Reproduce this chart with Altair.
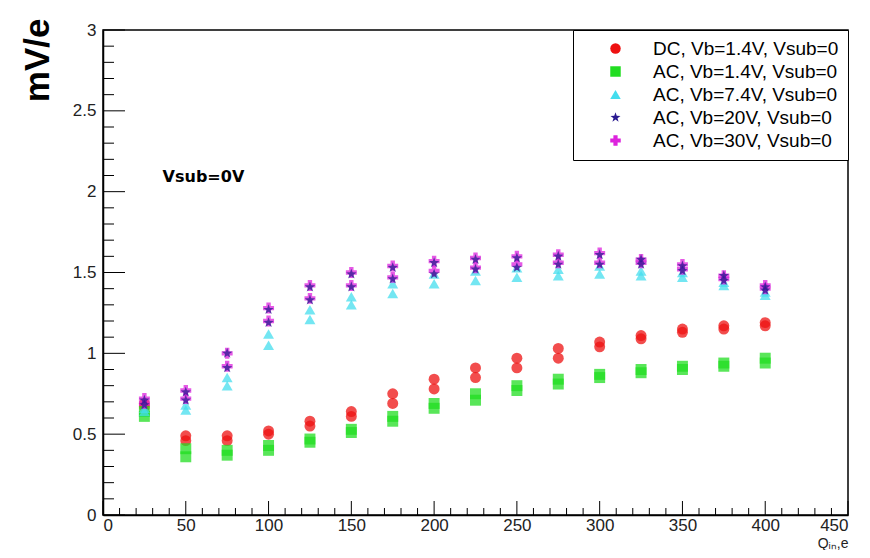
import altair as alt
import pandas as pd

q = [25, 50, 75, 100, 125, 150, 175, 200, 225, 250, 275, 300, 325, 350, 375, 400]

series = [
    "DC, Vb=1.4V, Vsub=0",
    "AC, Vb=1.4V, Vsub=0",
    "AC, Vb=7.4V, Vsub=0",
    "AC, Vb=20V, Vsub=0",
    "AC, Vb=30V, Vsub=0",
]

dc14_a = [0.69, 0.49, 0.49, 0.52, 0.58, 0.64, 0.75, 0.84, 0.91, 0.97, 1.03, 1.07, 1.11, 1.15, 1.17, 1.19]
dc14_b = [0.67, 0.46, 0.46, 0.50, 0.55, 0.61, 0.69, 0.78, 0.85, 0.91, 0.97, 1.04, 1.09, 1.13, 1.15, 1.17]
ac14_a = [0.64, 0.41, 0.40, 0.43, 0.47, 0.53, 0.61, 0.69, 0.75, 0.80, 0.84, 0.87, 0.90, 0.92, 0.94, 0.97]
ac14_b = [0.61, 0.36, 0.37, 0.40, 0.45, 0.51, 0.58, 0.66, 0.71, 0.77, 0.81, 0.85, 0.88, 0.90, 0.92, 0.94]
ac74_a = [0.66, 0.68, 0.85, 1.12, 1.27, 1.35, 1.43, 1.49, 1.51, 1.53, 1.52, 1.54, 1.51, 1.50, 1.44, 1.38]
ac74_b = [0.64, 0.65, 0.80, 1.05, 1.21, 1.30, 1.37, 1.43, 1.45, 1.47, 1.48, 1.49, 1.48, 1.47, 1.42, 1.36]
ac20_a = [0.71, 0.76, 1.00, 1.27, 1.41, 1.49, 1.53, 1.56, 1.58, 1.59, 1.60, 1.61, 1.58, 1.54, 1.48, 1.41]
ac20_b = [0.68, 0.71, 0.91, 1.19, 1.33, 1.41, 1.46, 1.49, 1.52, 1.53, 1.55, 1.55, 1.55, 1.51, 1.45, 1.39]
ac30_a = [0.72, 0.77, 1.00, 1.28, 1.42, 1.50, 1.54, 1.57, 1.59, 1.60, 1.61, 1.62, 1.58, 1.55, 1.48, 1.42]
ac30_b = [0.69, 0.72, 0.92, 1.20, 1.34, 1.42, 1.47, 1.51, 1.53, 1.55, 1.56, 1.56, 1.56, 1.52, 1.46, 1.40]

runs = [
    (series[0], dc14_a), (series[0], dc14_b),
    (series[1], ac14_a), (series[1], ac14_b),
    (series[2], ac74_a), (series[2], ac74_b),
    (series[4], ac30_a), (series[4], ac30_b),
    (series[3], ac20_a), (series[3], ac20_b),
]

x_major = [0, 50, 100, 150, 200, 250, 300, 350, 400, 450]
x_minor = [v for v in range(0, 451, 10) if v % 50 != 0]
y_major = [0, 0.5, 1, 1.5, 2, 2.5, 3]
y_minor = [round(i * 0.1, 1) for i in range(31) if i % 5 != 0]

note_x = [36]
note_y = [2.09]
note_text = ["Vsub=0V"]

colors = ["#ee1111", "#22dd22", "#44ddee", "#2a1a90", "#dd22dd"]
star = ("M0,-1L0.235,-0.324L0.951,-0.309L0.38,0.124L0.588,0.809L0,0.4"
        "L-0.588,0.809L-0.38,0.124L-0.951,-0.309L-0.235,-0.324Z")
shapes = ["circle", "square", "triangle-up", star, "cross"]

rows = []
for s, vals in runs:
    for xv, yv in zip(q, vals):
        rows.append({"q": xv, "v": yv, "series": s})
df = pd.DataFrame(rows)

W, H = 745, 485
xs = alt.Scale(domain=[0, 450], nice=False, zero=False)
ys = alt.Scale(domain=[0, 3], nice=False, zero=False)

points = alt.Chart(df).mark_point(filled=True, opacity=0.75, size=120).encode(
    x=alt.X("q:Q", scale=xs, axis=alt.Axis(
        values=x_major, format="d", ticks=False, grid=False,
        labelFont="Liberation Sans", labelFontSize=17, labelColor="#222",
        labelPadding=2, domainColor="black", domainWidth=1.5,
        title="Qᵢₙ,e", titleFont="Liberation Sans", titleFontSize=14,
        titleFontWeight="normal", titleColor="#222",
        titleX=W, titleY=35, titleAlign="right", titleBaseline="bottom")),
    y=alt.Y("v:Q", scale=ys, axis=alt.Axis(
        values=y_major, format="~f", ticks=False, grid=False,
        labelFont="Liberation Sans", labelFontSize=17, labelColor="#222",
        labelPadding=7, domainColor="black", domainWidth=1.5,
        title="mV/e", titleFont="Liberation Sans", titleFontSize=35,
        titleFontWeight="bold", titleColor="black", titleAngle=270,
        titleX=-48, titleY=-12, titleAlign="right", titleBaseline="bottom")),
    color=alt.Color("series:N", scale=alt.Scale(domain=series, range=colors),
                    sort=series, title=None),
    shape=alt.Shape("series:N", scale=alt.Scale(domain=series, range=shapes),
                    sort=series, title=None),
)

xmaj = alt.Chart(pd.DataFrame({"t": x_major})).mark_rule(color="black", strokeWidth=1).encode(
    x=alt.X("t:Q", scale=xs), y=alt.value(H), y2=alt.value(H - 14))
xmin = alt.Chart(pd.DataFrame({"t": x_minor})).mark_rule(color="black", strokeWidth=1).encode(
    x=alt.X("t:Q", scale=xs), y=alt.value(H), y2=alt.value(H - 7))
ymaj = alt.Chart(pd.DataFrame({"t": y_major})).mark_rule(color="black", strokeWidth=1).encode(
    y=alt.Y("t:Q", scale=ys), x=alt.value(0), x2=alt.value(22))
ymin = alt.Chart(pd.DataFrame({"t": y_minor})).mark_rule(color="black", strokeWidth=1).encode(
    y=alt.Y("t:Q", scale=ys), x=alt.value(0), x2=alt.value(11))

note = alt.Chart(pd.DataFrame({"x": note_x, "y": note_y, "t": note_text})).mark_text(
    font="DejaVu Sans", fontWeight="bold", fontSize=16, align="left",
    baseline="middle", color="black").encode(
    x=alt.X("x:Q", scale=xs), y=alt.Y("y:Q", scale=ys), text="t:N")

chart = alt.layer(xmin, xmaj, ymin, ymaj, note, points).properties(
    width=W, height=H,
    padding={"left": 95, "top": 22, "right": 14, "bottom": 35},
    autosize=alt.AutoSizeParams(type="none"),
).configure_view(stroke="black", strokeWidth=1.5).configure_legend(
    orient="top-right", offset=0, padding=9, strokeColor="black",
    fillColor="white", labelFont="Liberation Sans", labelFontSize=19,
    labelColor="black", symbolOffset=24, labelOffset=28, rowPadding=3,
    symbolSize=110, symbolStrokeWidth=0, symbolOpacity=1, labelLimit=400,
)

chart.save("out.html", embed_options={"renderer": "svg", "actions": False})
